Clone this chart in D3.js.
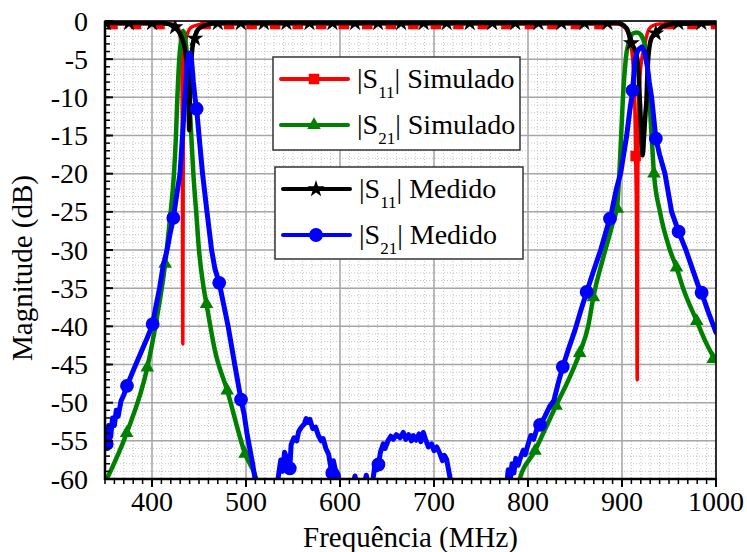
<!DOCTYPE html>
<html>
<head>
<meta charset="utf-8">
<script src="https://cdnjs.cloudflare.com/ajax/libs/d3/7.8.5/d3.min.js"></script>
<style>
body { margin: 0; background: #fff; }
svg text { font-family: "Liberation Serif", "DejaVu Serif", serif; }
</style>
</head>
<body>
<svg id="chart" width="747" height="552"></svg>
<script>
// axis ticks
var xTicks = [400, 500, 600, 700, 800, 900, 1000];
var yTicks = [0, -5, -10, -15, -20, -25, -30, -35, -40, -45, -50, -55, -60];

// |S11| simulado (red)
var s11SimFreq = [350, 420, 426, 428, 429.5, 431, 431.8, 432.3, 432.8, 433.3, 434, 435, 436.5, 438.5, 441, 446, 455,
  895, 900, 904, 907, 910, 912, 913.5, 914.5, 915.4, 916.2, 916.8, 917.6, 919, 921, 923, 924.5, 926.5, 929, 933, 940, 1000];
var s11SimDb = [-0.4, -0.4, -0.6, -1.0, -1.7, -3.5, -7, -14, -42.3, -14, -6, -3.5, -2.2, -1.4, -0.9, -0.6, -0.4,
  -0.4, -0.6, -1.0, -1.8, -3.5, -6, -10, -17.7, -26, -47, -22, -12, -7.5, -5, -3.8, -2.9, -1.8, -1, -0.6, -0.4, -0.4];
var s11SimMarkFreq = [358, 383, 408, 457, 482, 506, 531, 555, 580, 604, 629, 654, 678, 702, 726, 752, 777, 802, 826, 851, 876, 914.5, 950, 975, 1000];
var s11SimMarkDb = [-0.4, -0.4, -0.4, -0.4, -0.4, -0.4, -0.4, -0.4, -0.4, -0.4, -0.4, -0.4, -0.4, -0.4, -0.4, -0.4, -0.4, -0.4, -0.4, -0.4, -0.4, -17.7, -0.4, -0.4, -0.4];

// |S21| simulado (green)
var s21SimFreq = [350, 373, 395, 405, 414, 419, 423.4, 425.5, 427, 429, 431, 433, 435, 437.5, 439.6, 441.8, 444, 447, 450, 455, 458, 467, 480, 499, 512, 516,
  786, 790, 807.4, 829.8, 845, 855, 864, 869.5, 880, 889, 895, 898, 901, 904, 908, 912, 916, 920, 924, 927, 929.5, 931.5, 934, 940.4, 951, 958, 965, 979.5, 990, 1000];
var s21SimDb = [-60.5, -54, -45.4, -39, -31.8, -26, -20, -15, -10, -5, -2.5, -1.3, -2, -5, -10, -15, -20, -25, -30, -35, -37.1, -43.2, -48.4, -56.7, -60.5, -63,
  -63, -60.5, -56.3, -50.4, -46.5, -43.5, -40, -36.2, -31, -27, -24, -18, -10, -5, -2.5, -1.6, -1.5, -1.8, -3, -6, -11, -15, -20, -25, -30, -32.3, -35, -39.3, -42.3, -44.6];
var s21SimMarkFreq = [373, 395, 414, 458, 480, 499, 807.4, 829.8, 855, 869.5, 895, 934, 958, 979.5, 997];
var s21SimMarkDb = [-54, -45.4, -31.8, -37.1, -48.4, -56.7, -56.3, -50.4, -43.5, -36.2, -24.6, -20, -32.3, -39.3, -44.3];

// |S11| medido (black)
var s11MeasFreq = [350, 410, 418, 422, 426, 430, 433, 435.5, 437.5, 438.8, 439.6, 440.4, 441.5, 443, 445, 448, 452, 458, 470,
  895, 902, 906, 910, 913.8, 916, 917.5, 919, 920.5, 922, 923.5, 925, 926, 927, 928, 931.5, 936, 943.6, 955, 1000];
var s11MeasDb = [-0.25, -0.25, -0.4, -0.6, -1, -1.7, -2.6, -4, -6.5, -10, -14.3, -10, -6, -3.5, -2.3, -1.3, -0.8, -0.5, -0.25,
  -0.25, -0.6, -1.2, -2.9, -3.8, -4.8, -6.5, -10.4, -14.5, -17.6, -15, -12, -10.4, -7, -4.7, -2.2, -1.6, -0.7, -0.4, -0.25];
var s11MeasMarkFreq = [351, 375.5, 400, 424.5, 445.7, 470, 494.5, 519, 543, 567.5, 592, 616, 640.5, 665, 689, 713.5, 738, 762, 786.5, 811, 835.5, 860, 884.5, 910, 936, 960, 984.5];
var s11MeasMarkDb = [-0.25, -0.25, -0.25, -0.8, -2.3, -0.25, -0.25, -0.25, -0.25, -0.25, -0.25, -0.25, -0.25, -0.25, -0.25, -0.25, -0.25, -0.25, -0.25, -0.25, -0.25, -0.25, -0.25, -2.9, -1.6, -0.25, -0.25];

// |S21| medido (blue)
var s21MeasFreq = [350, 351, 352.5, 354, 356, 358, 360, 362, 364, 367, 370, 373.4, 380, 388, 395, 400.7, 404, 408, 412, 416, 419, 422.7, 426, 429.8,
  432.5, 435, 437.5, 439, 440.4, 442, 444, 445.7, 447.5, 450, 453.8, 458, 463.4, 467, 471.5, 476, 481, 488, 494.7, 498, 501, 504, 507, 511, 514,
  532, 534, 537, 539, 541, 544, 546.6, 548, 551, 554, 556, 559, 562, 564, 566, 568, 571, 574, 577, 580, 582, 585, 588, 590, 591.8, 593, 595, 598, 600, 603,
  612, 614, 616, 618, 620, 624, 626, 628, 630, 632,
  634, 635.4, 637, 639, 640.9, 643, 646, 648, 651, 654, 656.6, 660, 664, 667.3, 670, 673, 676, 678, 681, 684, 686, 688.6, 691, 694, 697.4, 700, 703,
  706.4, 709, 711, 713.4, 715, 717, 718,
  775, 777, 779, 781, 783, 785, 787, 789.5, 792, 795, 797, 800, 803, 806, 809, 812.8, 818, 823, 827.6, 832, 837, 843, 850, 856, 862.4, 869, 877.3,
  882, 889, 894, 898.5, 902, 905, 908, 910.3, 912, 913.8, 917, 921, 924, 927, 929, 931.5, 934, 936, 940, 945.7, 952.8, 960.2, 968, 975, 982, 984.7, 992, 1000];
var s21MeasDb = [-55.8, -53.5, -56, -53, -54.5, -52, -53, -51, -51.8, -49.8, -49, -47.8, -45.8, -43.5, -41.5, -39.7, -37.5, -35, -32, -30, -28, -25.8, -23, -20,
  -15, -10, -5.5, -4.3, -4.2, -5, -8, -10, -11.5, -15, -20, -24.5, -30, -32.5, -34.3, -37, -40, -45, -49.6, -51.5, -54, -56, -58, -61, -63,
  -63, -60, -57.5, -59, -56.5, -57.5, -58.6, -55.5, -54.6, -55, -53.8, -53.2, -52.8, -52.1, -52.6, -52.2, -53.4, -53.2, -54.3, -55, -54.7, -56, -56.8, -58.3, -59.2, -57.6, -58.8, -59.4, -61, -63,
  -63, -60.5, -59.6, -61, -63, -63, -60.5, -59.5, -60.8, -63,
  -63, -59.8, -58.2, -58.8, -58.1, -56.5, -55.4, -56, -55, -54.4, -54.8, -54.2, -54.6, -53.9, -54.8, -54.2, -55, -54.3, -54.9, -54.1, -55.1, -53.9, -54.8, -55.8, -55.4, -56.3, -55.8,
  -56.7, -57.6, -56.9, -57.4, -58.5, -59.8, -63,
  -63, -61, -58.8, -60.3, -58, -59.2, -57.3, -58.2, -57.2, -56.2, -56.8, -55.5, -54.3, -54.8, -53.6, -52.9, -51.8, -50.5, -49.7, -47.5, -45.3, -43, -40.5, -38, -35.5, -33, -30,
  -28, -25, -22, -20, -17.3, -15, -12, -10, -8, -5, -3.8, -3.4, -4, -6, -8, -10, -13, -15.4, -17.5, -20, -25, -27.6, -30, -32.5, -35, -35.6, -38.2, -40.8];
var s21MeasMarkFreq = [351.8, 373.4, 400.7, 422.7, 447.5, 471.5, 494.7, 546.6, 591.8, 640.9, 812.8, 837, 862.4, 887.2, 911.3, 936, 960.2, 984.7];
var s21MeasMarkDb = [-55.4, -47.8, -39.7, -25.8, -11.5, -34.3, -49.6, -58.6, -59.2, -58.1, -52.9, -45.3, -35.5, -25.9, -9.1, -15.4, -27.6, -35.6];

var padL = 105, padR = 716, padT = 21, padB = 479;
var fontFam = "'Liberation Serif', 'DejaVu Serif', serif";

var svg = d3.select("#chart");
var x = d3.scaleLinear().domain([350, 1000]).range([padL, padR]);
var y = d3.scaleLinear().domain([-60, 0]).range([padB, padT]);

// text helper: font set both as attribute and inline style
function label(sel, size) {
  return sel.attr("font-family", fontFam).style("font-family", fontFam)
    .attr("font-size", size).attr("fill", "#000");
}

// grid
var grid = svg.append("g");
grid.selectAll(".vminor").data(x.ticks(65)).enter().append("line")
  .attr("x1", function(d) { return x(d); }).attr("x2", function(d) { return x(d); })
  .attr("y1", padT).attr("y2", padB)
  .attr("stroke", "#c4c4c4").attr("stroke-width", 1).attr("stroke-dasharray", "1,2");
grid.selectAll(".hminor").data(y.ticks(60)).enter().append("line")
  .attr("x1", padL).attr("x2", padR)
  .attr("y1", function(d) { return y(d); }).attr("y2", function(d) { return y(d); })
  .attr("stroke", "#c4c4c4").attr("stroke-width", 1).attr("stroke-dasharray", "1,2");
grid.selectAll(".vmajor").data(xTicks).enter().append("line")
  .attr("x1", function(d) { return x(d); }).attr("x2", function(d) { return x(d); })
  .attr("y1", padT).attr("y2", padB)
  .attr("stroke", "#a6a6a6").attr("stroke-width", 1.5);
grid.selectAll(".hmajor").data(yTicks).enter().append("line")
  .attr("x1", padL).attr("x2", padR)
  .attr("y1", function(d) { return y(d); }).attr("y2", function(d) { return y(d); })
  .attr("stroke", "#a6a6a6").attr("stroke-width", 1.5);

svg.append("clipPath").attr("id", "plotclip").append("rect")
  .attr("x", padL).attr("y", padT).attr("width", padR - padL).attr("height", padB - padT);

var series = [
  { freq: s11SimFreq, db: s11SimDb, mf: s11SimMarkFreq, md: s11SimMarkDb, color: "#ff0000", width: 3.5, symbol: d3.symbolSquare, size: 110, curve: d3.curveMonotoneX },
  { freq: s21SimFreq, db: s21SimDb, mf: s21SimMarkFreq, md: s21SimMarkDb, color: "#008000", width: 4.5, symbol: d3.symbolTriangle, size: 80, curve: d3.curveMonotoneX },
  { freq: s11MeasFreq, db: s11MeasDb, mf: s11MeasMarkFreq, md: s11MeasMarkDb, color: "#000000", width: 4.5, symbol: d3.symbolStar, size: 90, curve: d3.curveMonotoneX },
  { freq: s21MeasFreq, db: s21MeasDb, mf: s21MeasMarkFreq, md: s21MeasMarkDb, color: "#0000ff", width: 5, symbol: d3.symbolCircle, size: 150, curve: d3.curveLinear }
];

var plot = svg.append("g").attr("clip-path", "url(#plotclip)");
series.forEach(function(s) {
  var pts = s.freq.map(function(f, i) { return [f, s.db[i]]; });
  var line = d3.line().x(function(d) { return x(d[0]); }).y(function(d) { return y(d[1]); }).curve(s.curve);
  plot.append("path").attr("d", line(pts))
    .attr("fill", "none").attr("stroke", s.color).attr("stroke-width", s.width)
    .attr("stroke-linejoin", "round").attr("stroke-linecap", "round");
  var marks = s.mf.map(function(f, i) { return [f, s.md[i]]; });
  plot.selectAll(null).data(marks).enter().append("path")
    .attr("d", d3.symbol().type(s.symbol).size(s.size))
    .attr("transform", function(d) { return "translate(" + x(d[0]) + "," + y(d[1]) + ")"; })
    .attr("fill", s.color);
});

// frame
svg.append("rect").attr("x", padL).attr("y", padT).attr("width", padR - padL).attr("height", padB - padT)
  .attr("fill", "none").attr("stroke", "#000").attr("stroke-width", 1.5);

// bottom axis, ticks outward
var xAxis = svg.append("g");
xAxis.selectAll(".minor").data(x.ticks(65)).enter().append("line")
  .attr("x1", function(d) { return x(d); }).attr("x2", function(d) { return x(d); })
  .attr("y1", padB).attr("y2", padB + 5).attr("stroke", "#000").attr("stroke-width", 1.5);
xAxis.selectAll(".major").data(xTicks).enter().append("line")
  .attr("x1", function(d) { return x(d); }).attr("x2", function(d) { return x(d); })
  .attr("y1", padB).attr("y2", padB + 8).attr("stroke", "#000").attr("stroke-width", 2);
label(xAxis.selectAll(".lbl").data(xTicks).enter().append("text"), 28)
  .attr("x", function(d) { return x(d); }).attr("y", padB + 32)
  .attr("text-anchor", "middle")
  .text(function(d) { return d; });
xAxis.append("line").attr("x1", padL - 1).attr("x2", padR + 1).attr("y1", padB).attr("y2", padB)
  .attr("stroke", "#000").attr("stroke-width", 2.5);

// left axis, ticks inward
var yAxis = svg.append("g");
yAxis.selectAll(".minor").data(y.ticks(60)).enter().append("line")
  .attr("x1", padL).attr("x2", padL + 5)
  .attr("y1", function(d) { return y(d); }).attr("y2", function(d) { return y(d); })
  .attr("stroke", "#000").attr("stroke-width", 1.5);
yAxis.selectAll(".major").data(yTicks).enter().append("line")
  .attr("x1", padL).attr("x2", padL + 8)
  .attr("y1", function(d) { return y(d); }).attr("y2", function(d) { return y(d); })
  .attr("stroke", "#000").attr("stroke-width", 2);
label(yAxis.selectAll(".lbl").data(yTicks).enter().append("text"), 28)
  .attr("x", 88).attr("y", function(d) { return y(d) + 9.5; })
  .attr("text-anchor", "end")
  .text(function(d) { return d; });
yAxis.append("line").attr("x1", padL).attr("x2", padL).attr("y1", padT).attr("y2", padB + 1)
  .attr("stroke", "#000").attr("stroke-width", 2.5);

// titles
label(svg.append("text"), 29).attr("x", (padL + padR) / 2).attr("y", 547)
  .attr("text-anchor", "middle").text("Frequência (MHz)");
label(svg.append("text"), 29).attr("transform", "translate(32," + ((padT + padB) / 2 + 18) + ") rotate(-90)")
  .attr("text-anchor", "middle").text("Magnitude (dB)");

// legends
var legendBoxes = [
  { x: 273, y: 57, w: 247, h: 93, items: [0, 1], names: ["11", "21"], label: "Simulado" },
  { x: 275, y: 167, w: 248, h: 92, items: [2, 3], names: ["11", "21"], label: "Medido" }
];
legendBoxes.forEach(function(b) {
  var g = svg.append("g");
  g.append("rect").attr("x", b.x).attr("y", b.y).attr("width", b.w).attr("height", b.h)
    .attr("fill", "#fff").attr("stroke", "#333").attr("stroke-width", 1.5);
  b.items.forEach(function(idx, k) {
    var s = series[idx];
    var ry = b.y + 22 + k * 46;
    g.append("line").attr("x1", b.x + 8).attr("x2", b.x + 75).attr("y1", ry).attr("y2", ry)
      .attr("stroke", s.color).attr("stroke-width", 4).attr("stroke-linecap", "round");
    g.append("path").attr("d", d3.symbol().type(s.symbol).size(s.size))
      .attr("transform", "translate(" + (b.x + 41) + "," + ry + ")").attr("fill", s.color);
    var t = label(g.append("text"), 28).attr("x", b.x + 84).attr("y", ry + 9);
    t.append("tspan").text("|S");
    t.append("tspan").attr("font-size", 17).attr("dy", 10).text(b.names[k]);
    t.append("tspan").attr("dy", -10).text("| " + b.label);
  });
});

// re-apply the font once it is ready, forces relayout of the texts
if (document.fonts && document.fonts.load) {
  document.fonts.load("28px 'Liberation Serif'").then(function() {
    svg.selectAll("text").style("font-family", fontFam);
  });
}
</script>
</body>
</html>
